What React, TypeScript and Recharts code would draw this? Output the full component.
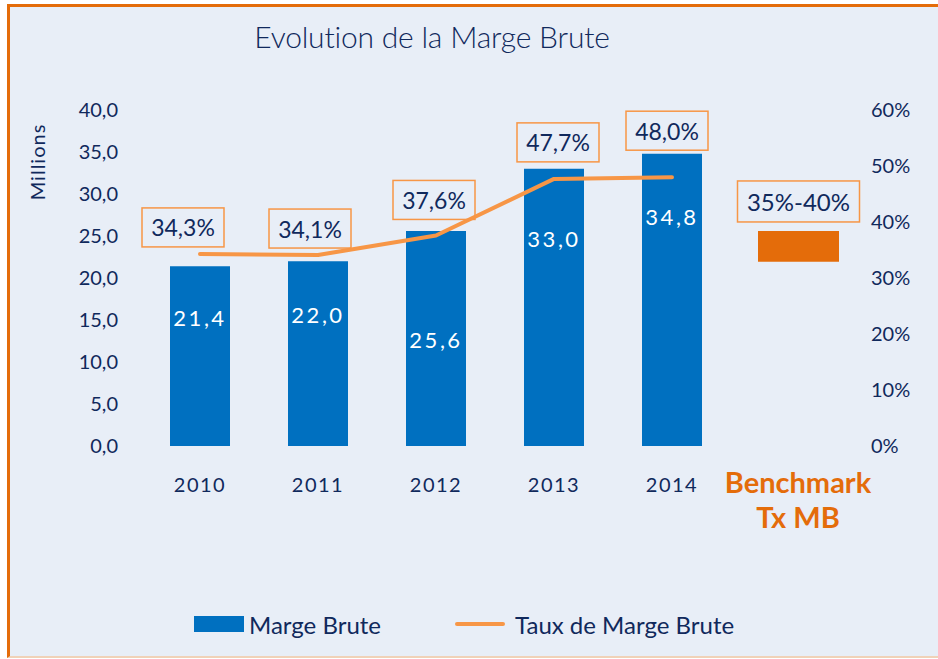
import React from "react";
import {
  ComposedChart,
  Bar,
  Line,
  XAxis,
  YAxis,
  LabelList,
} from "recharts";

const categories = ["2010", "2011", "2012", "2013", "2014", "Benchmark Tx MB"];
const margeBrute = [21.4, 22.0, 25.6, 33.0, 34.8, null];
const tauxMarge = [34.3, 34.1, 37.6, 47.7, 48.0, null];
const benchRange = [null, null, null, null, null, [32.9, 38.4]];
const benchLabels = [null, null, null, null, null, "35%-40%"];

const leftTicks = [0, 5, 10, 15, 20, 25, 30, 35, 40];
const rightTicks = [0, 10, 20, 30, 40, 50, 60];

const data = categories.map((cat, i) => ({
  cat,
  marge: margeBrute[i],
  taux: tauxMarge[i],
  bench: benchRange[i],
  benchLabel: benchLabels[i],
}));

const NAVY = "#10295c";
const BLUE = "#0070c0";
const ORANGE = "#e46c0a";
const LINE_ORANGE = "#f79646";
const BG = "#e8eef7";
const FONT = "Lato, 'Open Sans', sans-serif";

// hand nudges so labels sit where the original put them
const rateLabelNudge = [
  [-17, 7],
  [-8, 7],
  [-2, 16],
  [4, 17],
  [-5, 27],
];
const barLabelDrop = [51, 53, 109, 70, 63];

const comma = (v: number) => v.toFixed(1).replace(".", ",");

function pos(props: any) {
  const vb = props.viewBox || {};
  return {
    x: props.x ?? vb.x,
    y: props.y ?? vb.y,
    width: props.width ?? vb.width ?? 0,
    height: props.height ?? vb.height ?? 0,
  };
}

function RateLabel(props: any) {
  const { value, index } = props;
  if (value == null) return null;
  const { x, y } = pos(props);
  const [dx, gap] = rateLabelNudge[index] || [0, 10];
  const w = 82;
  const h = 39;
  const cx = x + dx;
  const bottom = y - gap;
  return (
    <g>
      <rect
        x={cx - w / 2}
        y={bottom - h}
        width={w}
        height={h}
        fill="none"
        stroke={LINE_ORANGE}
        strokeWidth={1.5}
      />
      <text
        x={cx}
        y={bottom - h / 2}
        textAnchor="middle"
        dominantBaseline="central"
        fill={NAVY}
        fontSize={23}
        fontFamily={FONT}
      >
        {comma(value)}%
      </text>
    </g>
  );
}

function BarValueLabel(props: any) {
  const { value, index } = props;
  if (value == null) return null;
  const { x, y, width } = pos(props);
  return (
    <text
      x={x + width / 2}
      y={y + (barLabelDrop[index] ?? 50)}
      textAnchor="middle"
      dominantBaseline="central"
      fill="#ffffff"
      fontSize={22}
      letterSpacing={2.5}
      fontFamily={FONT}
    >
      {comma(value)}
    </text>
  );
}

function BenchLabel(props: any) {
  const { value } = props;
  if (!value) return null;
  const { x, y, width } = pos(props);
  const w = 122;
  const h = 41;
  const cx = x + width / 2;
  const bottom = y - 9;
  return (
    <g>
      <rect
        x={cx - w / 2}
        y={bottom - h}
        width={w}
        height={h}
        fill="none"
        stroke={LINE_ORANGE}
        strokeWidth={1.5}
      />
      <text
        x={cx}
        y={bottom - h / 2}
        textAnchor="middle"
        dominantBaseline="central"
        fill={NAVY}
        fontSize={24}
        fontFamily={FONT}
      >
        {value}
      </text>
    </g>
  );
}

function CatTick(props: any) {
  const { x, y, payload } = props;
  const v = String(payload.value);
  if (v.startsWith("Benchmark")) {
    const [a, b] = ["Benchmark", v.replace("Benchmark", "").trim()];
    const bx = x + 8;
    return (
      <text
        x={bx}
        y={y}
        textAnchor="middle"
        fill={ORANGE}
        fontWeight={700}
        fontSize={29}
        fontFamily={FONT}
      >
        <tspan x={bx} dy={41}>
          {a}
        </tspan>
        <tspan x={bx} dy={35}>
          {b}
        </tspan>
      </text>
    );
  }
  return (
    <text
      x={x}
      y={y}
      dy={40}
      textAnchor="middle"
      fill={NAVY}
      fontSize={20}
      letterSpacing={1.5}
      fontFamily={FONT}
    >
      {v}
    </text>
  );
}

export default function App() {
  return (
    <div
      style={{
        position: "absolute",
        left: 0,
        top: 0,
        width: 938,
        height: 659,
        background: "#ffffff",
        fontFamily: FONT,
        overflow: "hidden",
      }}
    >
      <div
        style={{
          position: "absolute",
          left: 7,
          top: 4,
          right: 0,
          bottom: 1,
          background: BG,
          borderLeft: `3px solid ${ORANGE}`,
          borderTop: `3px solid ${ORANGE}`,
          borderBottom: "2px solid #f0d2b8",
        }}
      />
      <div
        style={{
          position: "absolute",
          left: 0,
          top: 18,
          width: 864,
          textAlign: "center",
          fontSize: 30,
          fontWeight: 300,
          color: NAVY,
          lineHeight: "normal",
          letterSpacing: -0.2,
        }}
      >
        Evolution de la Marge Brute
      </div>
      <div
        style={{
          position: "absolute",
          left: 37,
          top: 162,
          transform: "translate(-50%, -50%) rotate(-90deg)",
          fontSize: 20,
          color: NAVY,
          letterSpacing: 1,
          whiteSpace: "nowrap",
        }}
      >
        Millions
      </div>

      <div style={{ position: "absolute", left: 0, top: 0 }}>
        <ComposedChart
          width={938}
          height={659}
          data={data}
          margin={{ top: 110, right: 29, bottom: 113, left: 81 }}
        >
          <XAxis
            dataKey="cat"
            axisLine={false}
            tickLine={false}
            tickMargin={0}
            height={100}
            interval={0}
            tick={<CatTick />}
          />
          <XAxis
            dataKey="cat"
            xAxisId="bench"
            hide
            padding={{ left: 96, right: 0 }}
          />
          <YAxis
            yAxisId="mb"
            orientation="left"
            width={60}
            domain={[0, 40]}
            ticks={leftTicks}
            tickFormatter={comma}
            axisLine={false}
            tickLine={false}
            tickMargin={17}
            tick={{ fill: NAVY, fontSize: 20, fontFamily: FONT }}
          />
          <YAxis
            yAxisId="pct"
            orientation="right"
            width={60}
            domain={[0, 60]}
            ticks={rightTicks}
            tickFormatter={(v: number) => `${v}%`}
            axisLine={false}
            tickLine={false}
            tickMargin={16}
            tick={{ fill: NAVY, fontSize: 20, fontFamily: FONT, textAnchor: "start" }}
          />
          <Bar
            dataKey="marge"
            name="Marge Brute"
            yAxisId="mb"
            fill={BLUE}
            barSize={60}
            isAnimationActive={false}
          >
            <LabelList dataKey="marge" content={<BarValueLabel />} />
          </Bar>
          <Bar
            dataKey="bench"
            xAxisId="bench"
            yAxisId="pct"
            fill={ORANGE}
            barSize={81}
            legendType="none"
            isAnimationActive={false}
          >
            <LabelList dataKey="benchLabel" content={<BenchLabel />} />
          </Bar>
          <Line
            dataKey="taux"
            name="Taux de Marge Brute"
            yAxisId="pct"
            stroke={LINE_ORANGE}
            strokeWidth={4}
            strokeLinecap="round"
            strokeLinejoin="round"
            dot={false}
            activeDot={false}
            isAnimationActive={false}
          >
            <LabelList dataKey="taux" content={<RateLabel />} />
          </Line>
        </ComposedChart>
      </div>

      <div
        style={{
          position: "absolute",
          left: 194,
          top: 609,
          height: 30,
          display: "flex",
          alignItems: "center",
          fontSize: 24,
          color: NAVY,
        }}
      >
        <span style={{ width: 50, height: 16, background: BLUE, marginRight: 5 }} />
        <span style={{ marginRight: 74 }}>Marge Brute</span>
        <span
          style={{
            width: 50,
            height: 4,
            borderRadius: 2,
            background: LINE_ORANGE,
            marginRight: 10,
          }}
        />
        <span>Taux de Marge Brute</span>
      </div>
    </div>
  );
}
